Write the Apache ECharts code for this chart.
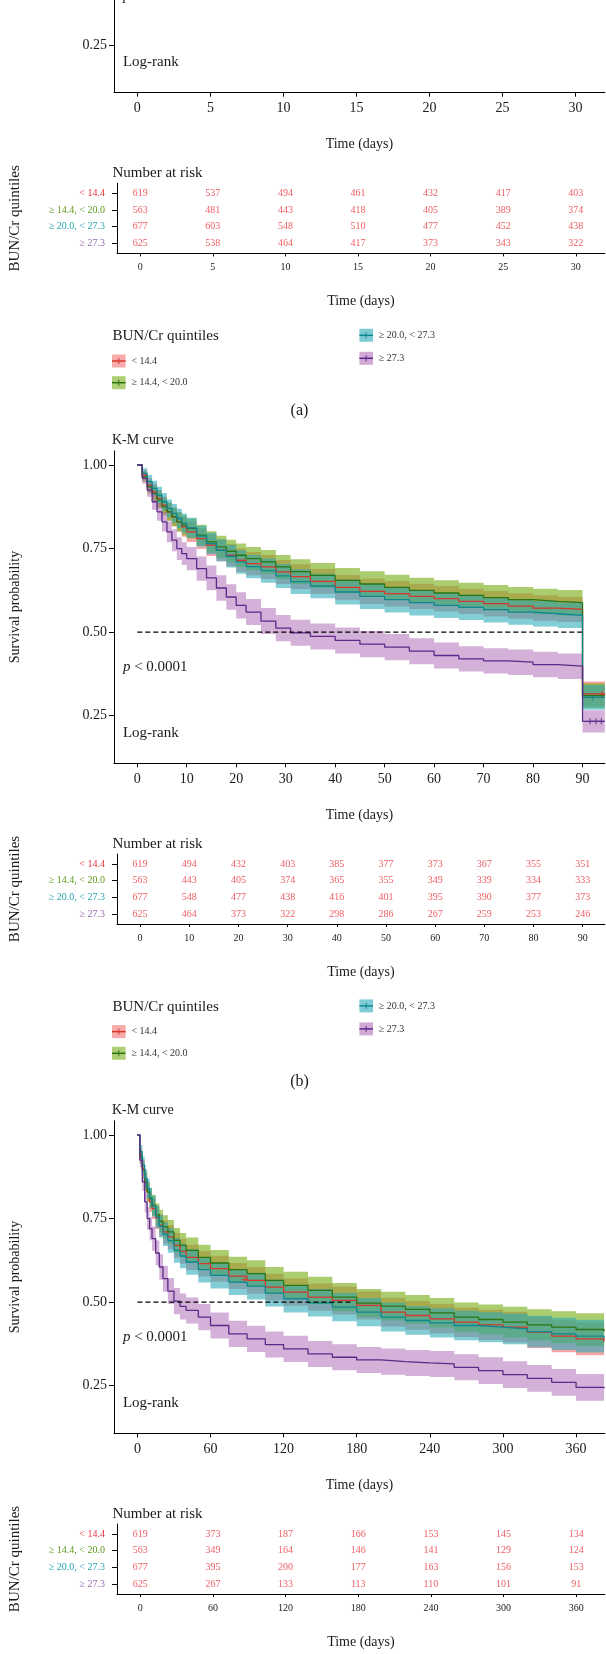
<!DOCTYPE html>
<html>
<head>
<meta charset="utf-8">
<script src="https://cdn.jsdelivr.net/npm/echarts@6/dist/echarts.min.js"></script>
<style>
  html, body { margin: 0; padding: 0; background: #fff; overflow: hidden; }
  #wrap { position: relative; width: 606px; height: 1654px; overflow: hidden; }
  #chart { position: absolute; left: 0; top: -240px; width: 606px; height: 1894px; }
</style>
</head>
<body>
<div id="wrap"><div id="chart"></div></div>
<script>
// BUN/Cr quintile groups
const groupNames = ["< 14.4", "≥ 14.4, < 20.0", "≥ 20.0, < 27.3", "≥ 27.3"];

// (b) 90-day K-M curves
const timeB = [0, 1, 2, 3, 4, 5, 6, 7, 8, 9, 10, 12, 14, 16, 18, 20, 22, 25, 28, 31, 35, 40, 45, 50, 55, 60, 65, 70, 75, 80, 85, 90, 94.5];
const survB_red = [1, .97, .94, .92, .90, .88, .86, .845, .83, .815, .80, .78, .76, .745, .73, .715, .705, .695, .68, .666, .652, .634, .622, .615, .607, .60, .592, .585, .578, .572, .568, .315, .315];
const lowB_red = [1, .955, .92, .897, .875, .854, .833, .817, .801, .785, .77, .749, .728, .712, .696, .68, .67, .659, .644, .629, .615, .597, .584, .577, .569, .562, .554, .547, .54, .534, .53, .278, .278];
const uppB_red = [1, .985, .96, .943, .925, .906, .887, .873, .859, .845, .83, .811, .792, .778, .764, .75, .74, .731, .716, .703, .689, .671, .66, .653, .645, .638, .63, .623, .616, .61, .606, .352, .352];
const survB_green = [1, .965, .935, .915, .895, .875, .86, .845, .83, .82, .81, .79, .77, .755, .742, .73, .72, .71, .695, .681, .67, .655, .644, .634, .625, .617, .61, .603, .597, .592, .588, .31, .31];
const lowB_green = [1, .95, .915, .892, .87, .849, .833, .817, .801, .79, .78, .759, .738, .722, .708, .695, .685, .674, .659, .644, .633, .618, .606, .596, .587, .579, .572, .565, .559, .554, .55, .273, .273];
const uppB_green = [1, .98, .955, .938, .92, .901, .887, .873, .859, .85, .84, .821, .802, .788, .776, .765, .755, .746, .731, .718, .707, .692, .682, .672, .663, .655, .648, .641, .635, .63, .626, .347, .347];
const survB_cyan = [1, .975, .95, .93, .91, .89, .87, .855, .84, .826, .812, .787, .765, .745, .727, .71, .696, .684, .668, .651, .638, .62, .607, .597, .588, .58, .574, .567, .56, .555, .55, .305, .305];
const lowB_cyan = [1, .96, .93, .907, .885, .864, .843, .827, .811, .797, .782, .756, .733, .712, .693, .675, .661, .648, .632, .614, .601, .583, .569, .559, .55, .542, .536, .529, .522, .517, .512, .268, .268];
const uppB_cyan = [1, .99, .97, .953, .935, .916, .897, .883, .869, .855, .842, .818, .797, .778, .761, .745, .731, .72, .704, .688, .675, .657, .645, .635, .626, .618, .612, .605, .598, .593, .588, .342, .342];
const survB_purple = [1, .96, .925, .89, .86, .83, .80, .775, .75, .735, .72, .69, .662, .632, .605, .58, .56, .533, .512, .498, .487, .475, .464, .455, .443, .43, .42, .414, .41, .403, .398, .233, .233];
const lowB_purple = [1, .945, .905, .866, .833, .801, .769, .742, .716, .701, .685, .654, .625, .594, .567, .541, .521, .494, .473, .459, .448, .436, .425, .416, .404, .391, .382, .376, .372, .365, .36, .20, .20];
const uppB_purple = [1, .975, .945, .914, .887, .859, .831, .808, .784, .769, .755, .726, .699, .67, .643, .619, .599, .572, .551, .537, .526, .514, .503, .494, .482, .469, .458, .452, .448, .441, .436, .266, .266];

// (c) 365-day K-M curves
const timeC = [0, 2, 4, 6, 8, 10, 12, 15, 18, 21, 25, 30, 35, 40, 50, 60, 75, 90, 105, 120, 140, 160, 180, 200, 220, 240, 260, 280, 300, 320, 340, 360, 383];
const survC_red = [1, .94, .90, .86, .83, .80, .78, .752, .73, .71, .695, .67, .652, .634, .615, .60, .578, .565, .545, .53, .515, .505, .49, .47, .46, .45, .44, .432, .425, .41, .398, .39, .382];
const lowC_red = [1, .92, .875, .833, .801, .77, .749, .719, .696, .675, .659, .633, .615, .596, .577, .561, .539, .525, .505, .489, .474, .463, .448, .427, .417, .406, .396, .387, .379, .363, .35, .341, .332];
const uppC_red = [1, .96, .925, .887, .859, .83, .811, .785, .764, .745, .731, .707, .689, .672, .653, .639, .617, .605, .585, .571, .556, .547, .532, .513, .503, .494, .484, .477, .471, .457, .446, .439, .432];
const survC_green = [1, .935, .895, .86, .83, .81, .79, .762, .742, .725, .71, .685, .67, .655, .634, .617, .597, .585, .565, .55, .535, .515, .497, .488, .478, .468, .455, .448, .44, .432, .425, .418, .412];
const lowC_green = [1, .915, .87, .833, .801, .78, .759, .729, .708, .69, .674, .648, .633, .617, .596, .578, .558, .545, .525, .509, .494, .473, .455, .445, .435, .424, .411, .403, .394, .385, .377, .369, .362];
const uppC_green = [1, .955, .92, .887, .859, .84, .821, .795, .776, .76, .746, .722, .707, .693, .672, .656, .636, .625, .605, .591, .576, .557, .539, .531, .521, .512, .499, .493, .486, .479, .473, .467, .462];
const survC_cyan = [1, .95, .91, .87, .84, .812, .787, .755, .727, .703, .684, .655, .638, .62, .597, .58, .56, .548, .527, .51, .498, .485, .47, .455, .445, .438, .43, .425, .42, .412, .405, .398, .393];
const lowC_cyan = [1, .93, .885, .843, .811, .782, .756, .722, .693, .668, .648, .618, .601, .582, .559, .541, .521, .508, .487, .469, .457, .443, .428, .412, .402, .394, .386, .38, .374, .365, .357, .349, .343];
const uppC_cyan = [1, .97, .935, .897, .869, .842, .818, .788, .761, .738, .72, .692, .675, .658, .635, .619, .599, .588, .567, .551, .539, .527, .512, .498, .488, .482, .474, .47, .466, .459, .453, .447, .443];
const survC_purple = [1, .925, .86, .80, .75, .72, .69, .647, .605, .57, .533, .503, .487, .475, .455, .43, .405, .39, .373, .36, .345, .335, .327, .322, .318, .315, .305, .295, .283, .272, .26, .245, .242];
const lowC_purple = [1, .905, .833, .769, .716, .685, .654, .61, .567, .531, .494, .464, .448, .436, .416, .391, .366, .351, .334, .321, .306, .296, .288, .283, .279, .276, .266, .255, .243, .232, .22, .205, .202];
const uppC_purple = [1, .945, .887, .831, .784, .755, .726, .684, .643, .609, .572, .542, .526, .514, .494, .469, .444, .429, .412, .399, .384, .374, .366, .361, .357, .354, .344, .335, .323, .312, .30, .285, .282];

// censoring marks [time, survival]
const censorB = [[[94, .315]], [], [[92, .305]], [[91.5, .233], [92.7, .233], [93.8, .233]]];
const censorC = [[[88, .567]], [], [], []];

// x ticks
const ticksA = [0, 5, 10, 15, 20, 25, 30];
const ticksB = [0, 10, 20, 30, 40, 50, 60, 70, 80, 90];
const ticksC = [0, 60, 120, 180, 240, 300, 360];

// number at risk (rows = groups)
const riskA = [
  [619, 537, 494, 461, 432, 417, 403],
  [563, 481, 443, 418, 405, 389, 374],
  [677, 603, 548, 510, 477, 452, 438],
  [625, 538, 464, 417, 373, 343, 322]
];
const riskB = [
  [619, 494, 432, 403, 385, 377, 373, 367, 355, 351],
  [563, 443, 405, 374, 365, 355, 349, 339, 334, 333],
  [677, 548, 477, 438, 416, 401, 395, 390, 377, 373],
  [625, 464, 373, 322, 298, 286, 267, 259, 253, 246]
];
const riskC = [
  [619, 373, 187, 166, 153, 145, 134],
  [563, 349, 164, 146, 141, 129, 124],
  [677, 395, 200, 177, 163, 156, 153],
  [625, 267, 133, 113, 110, 101, 91]
];

// median reference line end (days)
const medianEnd = [30, 90, 175];

const OFF = 240; // chart div starts 240px above the page
const FONT = "Liberation Serif";
const TXT = "#1a1a1a";
const rowColors = ["#e8333a", "#5c9a1e", "#27a3b0", "#9467b0"];
const lineColors = ["#d8352c", "#2d7413", "#0f8790", "#5b2a8a"];
const bandColors = ["rgba(236,80,80,0.5)", "rgba(120,175,25,0.62)", "rgba(40,168,185,0.58)", "rgba(170,100,178,0.5)"];
const legendFill = ["rgba(240,100,100,0.55)", "rgba(120,175,25,0.6)", "rgba(40,168,185,0.6)", "rgba(170,100,178,0.55)"];

const panels = [
  { B: 92.7, xMin: -1.6, xMax: 32, ticks: ticksA, risk: riskA, tag: "(a)", curves: null },
  { B: 763.3, xMin: -4.7, xMax: 94.5, ticks: ticksB, risk: riskB, tag: "(b)", censor: censorB,
    curves: { t: timeB,
      s: [survB_red, survB_green, survB_cyan, survB_purple],
      lo: [lowB_red, lowB_green, lowB_cyan, lowB_purple],
      hi: [uppB_red, uppB_green, uppB_cyan, uppB_purple] } },
  { B: 1433.3, xMin: -19.2, xMax: 383.6, ticks: ticksC, risk: riskC, tag: "(c)", censor: censorC,
    curves: { t: timeC,
      s: [survC_red, survC_green, survC_cyan, survC_purple],
      lo: [lowC_red, lowC_green, lowC_cyan, lowC_purple],
      hi: [uppC_red, uppC_green, uppC_cyan, uppC_purple] } }
];

const grid = [], xAxis = [], yAxis = [], series = [], graphic = [];
const rich = {};
groupNames.forEach((g, i) => {
  rich["g" + i] = { color: rowColors[i], fontSize: 10, fontFamily: FONT };
});

const nameStyle = (size) => ({ fontFamily: FONT, fontSize: size, color: TXT });
const text = (x, y, str, size, extra) => ({
  type: "text", x: x, y: y + OFF, silent: true,
  style: Object.assign({ text: str, font: size + "px " + FONT, fill: TXT, textVerticalAlign: "middle" }, extra || {})
});

panels.forEach((p, k) => {
  const km = 2 * k, rk = 2 * k + 1;
  const B = p.B + OFF;
  grid.push({ left: 111.3, right: 1.2, top: B - 312.5, height: 312.5 });
  grid.push({ left: 111.3, right: 1.2, top: B + 90.7, height: 70 });

  // K-M axes
  xAxis.push({
    gridIndex: km, type: "value", min: p.xMin, max: p.xMax,
    axisLine: { show: true, onZero: false, lineStyle: { color: "#000", width: 1 } },
    axisTick: { show: true, length: 4, customValues: p.ticks, lineStyle: { color: "#000" } },
    axisLabel: { customValues: p.ticks, fontFamily: FONT, fontSize: 14, color: TXT, margin: 9 },
    splitLine: { show: false },
    name: "Time (days)", nameLocation: "middle", nameGap: 45, nameTextStyle: nameStyle(14)
  });
  yAxis.push({
    gridIndex: km, type: "value", min: 0.1075, max: 1.0425,
    axisLine: { show: true, onZero: false, lineStyle: { color: "#000", width: 1 } },
    axisTick: { show: true, length: 5, customValues: [0.25, 0.5, 0.75, 1], lineStyle: { color: "#000" } },
    axisLabel: { customValues: [0.25, 0.5, 0.75, 1], formatter: v => v.toFixed(2),
      fontFamily: FONT, fontSize: 14, color: TXT, margin: 7 },
    splitLine: { show: false },
    name: "Survival probability", nameLocation: "middle", nameGap: 92, nameRotate: 90,
    nameTextStyle: nameStyle(14)
  });

  // risk table axes
  xAxis.push({
    gridIndex: rk, type: "value", min: p.xMin, max: p.xMax,
    axisLine: { show: true, onZero: false, lineStyle: { color: "#000", width: 1 } },
    axisTick: { show: true, length: 3, customValues: p.ticks, lineStyle: { color: "#000" } },
    axisLabel: { customValues: p.ticks, fontFamily: FONT, fontSize: 10, color: TXT, margin: 9 },
    splitLine: { show: false },
    name: "Time (days)", nameLocation: "middle", nameGap: 41, nameTextStyle: nameStyle(14)
  });
  yAxis.push({
    gridIndex: rk, type: "value", min: 0.4, max: 4.6, inverse: true,
    axisLine: { show: true, onZero: false, lineStyle: { color: "#000", width: 1 } },
    axisTick: { show: true, length: 5, customValues: [1, 2, 3, 4], lineStyle: { color: "#000" } },
    axisLabel: { customValues: [1, 2, 3, 4], margin: 12, rich: rich,
      formatter: v => "{g" + (v - 1) + "|" + groupNames[v - 1] + "}" },
    splitLine: { show: false },
    name: "BUN/Cr quintiles", nameLocation: "middle", nameGap: 94, nameRotate: 90,
    nameTextStyle: nameStyle(15)
  });

  // curves: band then step line, group by group
  if (p.curves) {
    const c = p.curves;
    [0, 1, 2, 3].forEach(g => {
      series.push({
        type: "custom", xAxisIndex: km, yAxisIndex: km, silent: true,
        data: [[0, 1]],
        renderItem: (params, api) => {
          const t = c.t, lo = c.lo[g], hi = c.hi[g], n = t.length, pts = [];
          for (let i = 0; i < n; i++) {
            pts.push(api.coord([t[i], hi[i]]));
            if (i < n - 1) pts.push(api.coord([t[i + 1], hi[i]]));
          }
          for (let i = n - 1; i >= 0; i--) {
            if (i < n - 1) pts.push(api.coord([t[i + 1], lo[i]]));
            pts.push(api.coord([t[i], lo[i]]));
          }
          return { type: "polygon", shape: { points: pts }, style: { fill: bandColors[g] } };
        }
      });
      series.push({
        type: "line", xAxisIndex: km, yAxisIndex: km, step: "end", silent: true,
        showSymbol: false, data: c.t.map((t, i) => [t, c.s[g][i]]),
        lineStyle: { color: lineColors[g], width: 1.3 }
      });
      if (p.censor[g].length) {
        series.push({
          type: "scatter", xAxisIndex: km, yAxisIndex: km, silent: true,
          symbol: "path://M4,0h2v10h-2zM0,4h10v2h-10z", symbolSize: 6,
          data: p.censor[g], itemStyle: { color: lineColors[g] }
        });
      }
    });
    series.push({
      type: "line", xAxisIndex: km, yAxisIndex: km, silent: true, showSymbol: false,
      data: [[0, 0.5], [medianEnd[k], 0.5]],
      lineStyle: { color: "#000", width: 1.4, type: [5, 3] }
    });
  }

  // number at risk
  const pts = [];
  p.risk.forEach((row, g) => row.forEach((n, j) => pts.push([p.ticks[j], g + 1, n])));
  series.push({
    type: "scatter", xAxisIndex: rk, yAxisIndex: rk, silent: true,
    symbolSize: 1, itemStyle: { color: "transparent" }, data: pts,
    label: { show: true, position: "inside", formatter: q => q.value[2],
      fontFamily: FONT, fontSize: 10, color: "#e8333a" }
  });

  // texts
  graphic.push(text(112, p.B - 323.3, "K-M curve", 14));
  graphic.push({
    type: "text", x: 122.9, y: p.B - 96.6 + OFF, silent: true,
    style: { text: "{i|p} < 0.0001", font: "15px " + FONT, fill: TXT, textVerticalAlign: "middle",
      rich: { i: { fontStyle: "italic", fontSize: 15, fontFamily: FONT } } }
  });
  graphic.push(text(122.9, p.B - 30.5, "Log-rank", 15));
  graphic.push(text(112.5, p.B + 80.7, "Number at risk", 15));
  graphic.push(text(112.5, p.B + 243.5, "BUN/Cr quintiles", 15));
  const legendPos = [[112, p.B + 268.3], [112, p.B + 290], [359.4, p.B + 242.6], [359.4, p.B + 265.6]];
  legendPos.forEach((pos, g) => {
    const x = pos[0], y = pos[1] + OFF;
    graphic.push({ type: "rect", silent: true, shape: { x: x, y: y - 6.5, width: 13.6, height: 13 },
      style: { fill: legendFill[g] } });
    graphic.push({ type: "line", silent: true, shape: { x1: x, y1: y, x2: x + 13.6, y2: y },
      style: { stroke: lineColors[g], lineWidth: 1.5 } });
    graphic.push({ type: "line", silent: true, shape: { x1: x + 6.8, y1: y - 3, x2: x + 6.8, y2: y + 3 },
      style: { stroke: lineColors[g], lineWidth: 1 } });
    graphic.push(text(x + 19.4, pos[1], groupNames[g], 10, { fill: "#333" }));
  });
  graphic.push(text(299.5, p.B + 318, p.tag, 16, { textAlign: "center" }));
});

const chart = echarts.init(document.getElementById("chart"), null, { renderer: "canvas" });
chart.setOption({
  animation: false,
  backgroundColor: "#fff",
  textStyle: { fontFamily: FONT },
  grid, xAxis, yAxis, series, graphic
});
</script>
</body>
</html>
